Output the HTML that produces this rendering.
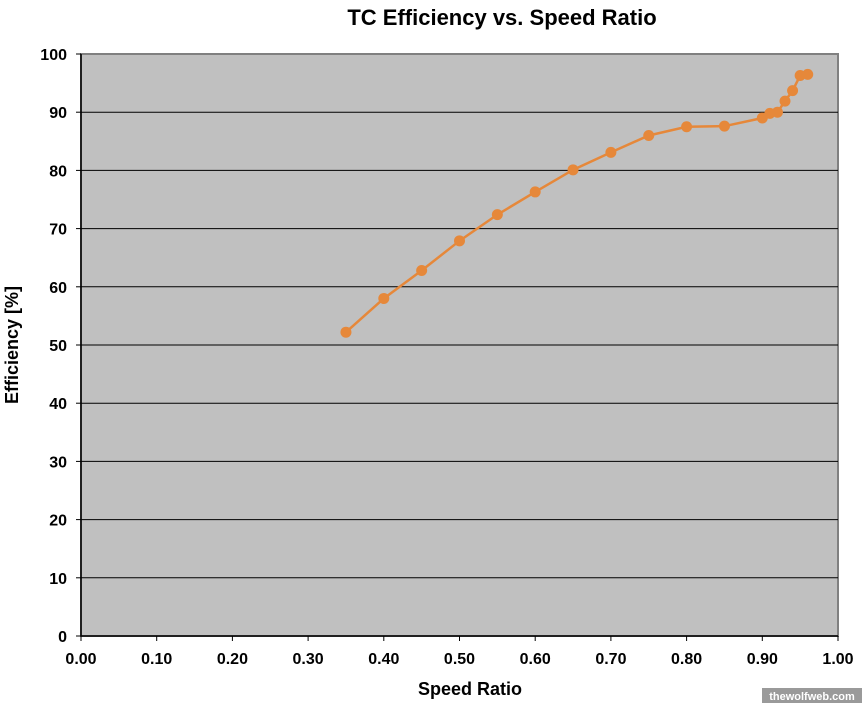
<!DOCTYPE html>
<html><head><meta charset="utf-8"><style>
body{margin:0;background:#fff;}
svg text{font-family:"Liberation Sans",Arial,sans-serif;font-weight:bold;}
</style></head><body>
<svg width="862" height="703">
<text x="502" y="25" font-size="22" text-anchor="middle">TC Efficiency vs. Speed Ratio</text>
<rect x="81" y="54" width="757" height="582" fill="#c0c0c0" stroke="#808080" stroke-width="2"/>
<g id="grid"></g><g id="axes"></g><g id="series"></g>
<text x="470" y="695" font-size="18" text-anchor="middle">Speed Ratio</text>
<text transform="translate(18,345) rotate(-90)" font-size="18" text-anchor="middle">Efficiency  [%]</text>
<rect x="762" y="688" width="100" height="15" fill="#9a9a9a"/>
<text x="812" y="700" font-size="11" fill="#fff" text-anchor="middle">thewolfweb.com</text>
</svg>
<script>
const speedRatio=[0.35,0.40,0.45,0.50,0.55,0.60,0.65,0.70,0.75,0.80,0.85,0.90,0.91,0.92,0.93,0.94,0.95,0.96];
const efficiency=[52.2,58,62.8,67.9,72.4,76.3,80.1,83.1,86,87.5,87.6,89,89.8,90,91.9,93.7,96.3,96.5];
const xTicks=["0.00","0.10","0.20","0.30","0.40","0.50","0.60","0.70","0.80","0.90","1.00"];
const yTicks=["0","10","20","30","40","50","60","70","80","90","100"];
const NS="http://www.w3.org/2000/svg";
const X=v=>81+v*757, Y=v=>636-v*5.82;
function mk(t,a,p){const e=document.createElementNS(NS,t);for(const k in a)e.setAttribute(k,a[k]);p.appendChild(e);return e;}
const grid=document.getElementById('grid'),axes=document.getElementById('axes'),ser=document.getElementById('series');
yTicks.forEach(t=>{const v=+t,y=Y(v);
 if(v>0&&v<100){const l=mk('line',{x1:81,x2:838,y1:y,y2:y,stroke:'#000','stroke-width':1},grid);
 
 }
 mk('line',{x1:76,x2:81,y1:y,y2:y,stroke:'#000'},axes);
 const tx=mk('text',{x:67,y:y+6,'font-size':16,'text-anchor':'end'},axes);tx.textContent=t;
 
 });
xTicks.forEach(t=>{const x=X(+t);
 mk('line',{x1:x,x2:x,y1:636,y2:641,stroke:'#000'},axes);
 const tx=mk('text',{x:x,y:664,'font-size':16,'text-anchor':'middle'},axes);tx.textContent=t;
 
 });
mk('line',{x1:81,x2:81,y1:54,y2:636,stroke:'#000','stroke-width':1.5},axes);
mk('line',{x1:81,x2:838,y1:636,y2:636,stroke:'#000','stroke-width':1.5},axes);
const pl=mk('polyline',{points:speedRatio.map((s,i)=>X(s)+','+Y(efficiency[i])).join(' '),fill:'none',stroke:'#e6883a','stroke-width':2.5},ser);


speedRatio.forEach((s,i)=>{const c=mk('circle',{cx:X(s),cy:Y(efficiency[i]),r:5.5,fill:'#e6883a'},ser);
 
 });
</script>
</body></html>
